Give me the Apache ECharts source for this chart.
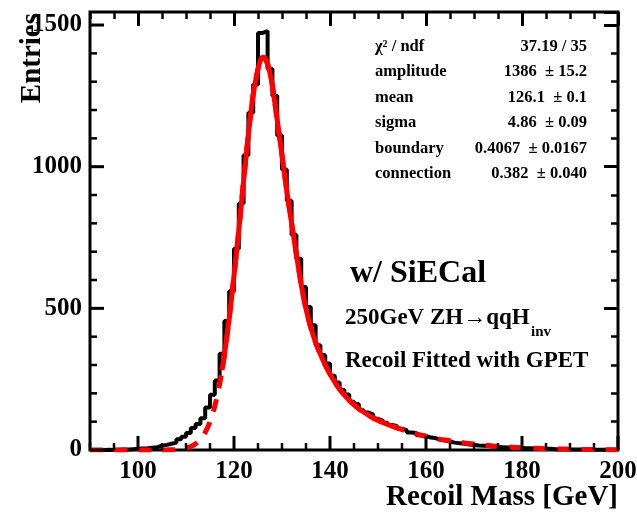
<!DOCTYPE html>
<html><head><meta charset="utf-8">
<script src="https://cdn.jsdelivr.net/npm/echarts@6/dist/echarts.min.js"></script>
<style>html,body{margin:0;padding:0;background:#fff}#c{width:637px;height:517px}</style>
</head><body><div id="c"></div>
<script>
// ---- data ----
const binStart = 90;
const binWidth = 1;
const counts = [
  0,0,0,1,0,1,2,2,3,4,
  5,6,8,10,15,18,22,26,38,47,
  60,78,92,112,150,195,245,340,455,560,
  710,870,1040,1190,1290,1472,1479,1345,1250,1110,
  990,880,760,675,575,505,440,370,335,305,
  262,238,212,196,170,162,140,132,125,110,
  104,96,88,84,75,70,62,60,52,50,
  44,42,36,33,30,26,24,22,19,18,
  16,15,14,12,11,10,9,9,7,7,
  6,6,5,5,4,4,3,3,3,2,
  2,2,2,1,1,1,1,1,1,0
];
const fitX = [90,92,94,96,98,100,102,104,106,107,108,109,110,111,112,113,114,115,116,117,117.5,
  118,119,120,121,122,123,124,125,125.5,126,126.5,127,127.5,
  128,129,130,131,132,133,134,135,136,137,138,139,140,141,142,143,144,145,146,147,148,149,150,
  151,152,153,154,155,156,157,158,159,160,
  162,164,166,168,170,172,174,176,178,180,182,184,186,188,190,192,194,196,198,200];
const fitY = [0,0,0,0,0,0,0,0.2,0.5,0.8,1.5,3,6,12,22,37,62,100,155,232,282,
  335,465,615,775,950,1115,1255,1345,1375,1386,1382,1362,1330,
  1285,1165,1040,915,800,690,585,498,432,380,338,300,268,240,215,194,176,160,146,134,123,113,105,
  97,90,84,78,72,67,62,57,52,48,
  41,35,30,25,21,17.5,14.5,12,10,8,6.5,5.3,4.3,3.5,2.8,2.2,1.8,1.4,1.1,0.9];
const fitRange = [117.5, 154];
const xRange = [90, 200];
const yMax = 1546;
const xMajorTicks = [100,120,140,160,180,200];
const xMinorStep = 5;
const yMajorStep = 500;
const yMinorStep = 100;
const statsLabels = ['χ² / ndf','amplitude','mean','sigma','boundary','connection'];
const statsValues = ['37.19 / 35','1386  ± 15.2','126.1  ± 0.1','4.86  ± 0.09','0.4067  ± 0.0167','0.382  ± 0.040'];

// ---- build ----
const histData = counts.map((v,i)=>[binStart+i*binWidth, v]);
histData.push([binStart+counts.length*binWidth, counts[counts.length-1]]);
const fitAll = fitX.map((x,i)=>[x, fitY[i]]);
const fitSolid = fitAll.filter(p=>p[0]>=fitRange[0] && p[0]<=fitRange[1]);

const MAJOR_LEN = 14, MINOR_LEN = 7;
const xTickSpec = [];
for (let v = xRange[0]; v <= xRange[1]; v += xMinorStep) xTickSpec.push([v, xMajorTicks.indexOf(v) >= 0 ? MAJOR_LEN : MINOR_LEN]);
const yTickSpec = [];
for (let v = 0; v <= yMax; v += yMinorStep) yTickSpec.push([v, v % yMajorStep === 0 ? MAJOR_LEN : MINOR_LEN]);

const FONT = '"Liberation Serif", "Times New Roman", serif';
const lab = {fontFamily: FONT, fontWeight:'bold', fontSize:25, color:'#000', formatter:v=>String(v)};
const tickStyle = {color:'#000', width:3};
const minorStyle = {color:'#000', width:2.5};

const xAxes = [
  {type:'value', position:'bottom', min:xRange[0], max:xRange[1], offset:0,
   axisLine:{show:false, onZero:false}, splitLine:{show:false}, axisTick:{show:false},
   axisLabel:Object.assign({customValues:xMajorTicks, margin:9}, lab)},
  {type:'value', position:'top', min:xRange[0], max:xRange[1], offset:0,
   axisLine:{show:false, onZero:false}, splitLine:{show:false}, axisLabel:{show:false},
   axisTick:{show:true, inside:true, length:MAJOR_LEN, lineStyle:tickStyle, customValues:xMajorTicks}},
  {type:'value', position:'top', min:xRange[0], max:xRange[1], offset:0, interval:xMinorStep,
   axisLine:{show:false, onZero:false}, splitLine:{show:false}, axisLabel:{show:false},
   axisTick:{show:true, inside:true, length:MINOR_LEN, lineStyle:minorStyle}}
];
const yAxes = [
  {type:'value', position:'left', min:0, max:yMax, interval:yMajorStep, offset:0,
   axisLine:{show:false, onZero:false}, splitLine:{show:false}, axisTick:{show:false},
   axisLabel:Object.assign({showMaxLabel:false, margin:8}, lab)},
  {type:'value', position:'right', min:0, max:yMax, interval:yMajorStep, offset:0,
   axisLine:{show:false, onZero:false}, splitLine:{show:false}, axisLabel:{show:false},
   axisTick:{show:true, inside:true, length:MAJOR_LEN, lineStyle:tickStyle}},
  {type:'value', position:'right', min:0, max:yMax, interval:yMinorStep, offset:0,
   axisLine:{show:false, onZero:false}, splitLine:{show:false}, axisLabel:{show:false},
   axisTick:{show:true, inside:true, length:MINOR_LEN, lineStyle:minorStyle}}
];

const graphics = [];
function txt(x,y,text,size,align,extra){
  const g = {type:'text', x:x, y:y, z:100, style:{text:text, font:'bold '+size+'px '+FONT, fill:'#000', align:align||'left', verticalAlign:'middle'}};
  if (extra) Object.assign(g, extra);
  graphics.push(g);
}
txt(33, 13, 'Entries', 29, 'right', {rotation:Math.PI/2});
txt(618, 498, 'Recoil Mass [GeV]', 29, 'right');
statsLabels.forEach((s,i)=>{
  txt(375, 46.5+25.5*i, s, 16.5, 'left');
  txt(587, 46.5+25.5*i, statsValues[i], 16.5, 'right');
});
txt(350, 274, 'w/ SiECal', 32, 'left');
txt(345, 318, '250GeV ZH→qqH', 23, 'left');
txt(531, 332, 'inv', 15, 'left');
txt(345, 361, 'Recoil Fitted with GPET', 23, 'left');

const chart = echarts.init(document.getElementById('c'), null, {renderer:'canvas'});
chart.setOption({
  animation:false,
  backgroundColor:'#fff',
  grid:{left:90, right:19, top:12, bottom:67, show:true, borderColor:'#000', borderWidth:3,
        backgroundColor:'transparent', containLabel:false, outerBoundsMode:'none'},
  xAxis:xAxes,
  yAxis:yAxes,
  series:[
    {type:'line', data:histData, step:'end', symbol:'none', xAxisIndex:0, yAxisIndex:0,
     lineStyle:{color:'#000', width:4}, z:2},
    {type:'line', data:fitAll, smooth:0.3, symbol:'none', xAxisIndex:0, yAxisIndex:0,
     lineStyle:{color:'#ff0000', width:5, type:[13,11]}, z:3},
    {type:'line', data:fitSolid, smooth:0.3, symbol:'none', xAxisIndex:0, yAxisIndex:0,
     lineStyle:{color:'#ff0000', width:5}, z:4},
    // bottom axis ticks (inside), placed through the x scale
    {type:'custom', xAxisIndex:0, yAxisIndex:0, data:xTickSpec, z:5, silent:true,
     renderItem:(params, api)=>{
       const p = api.coord([api.value(0), 0]);
       const len = api.value(1);
       return {type:'line', shape:{x1:p[0], y1:p[1], x2:p[0], y2:p[1]-len},
               style:{stroke:'#000', lineWidth: len === MAJOR_LEN ? 3 : 2.5}};
     }},
    // left axis ticks (inside), placed through the y scale
    {type:'custom', xAxisIndex:0, yAxisIndex:0, data:yTickSpec, z:5, silent:true,
     renderItem:(params, api)=>{
       const p = api.coord([xRange[0], api.value(0)]);
       const len = api.value(1);
       return {type:'line', shape:{x1:p[0], y1:p[1], x2:p[0]+len, y2:p[1]},
               style:{stroke:'#000', lineWidth: len === MAJOR_LEN ? 3 : 2.5}};
     }}
  ],
  graphic:graphics
});
</script></body></html>
